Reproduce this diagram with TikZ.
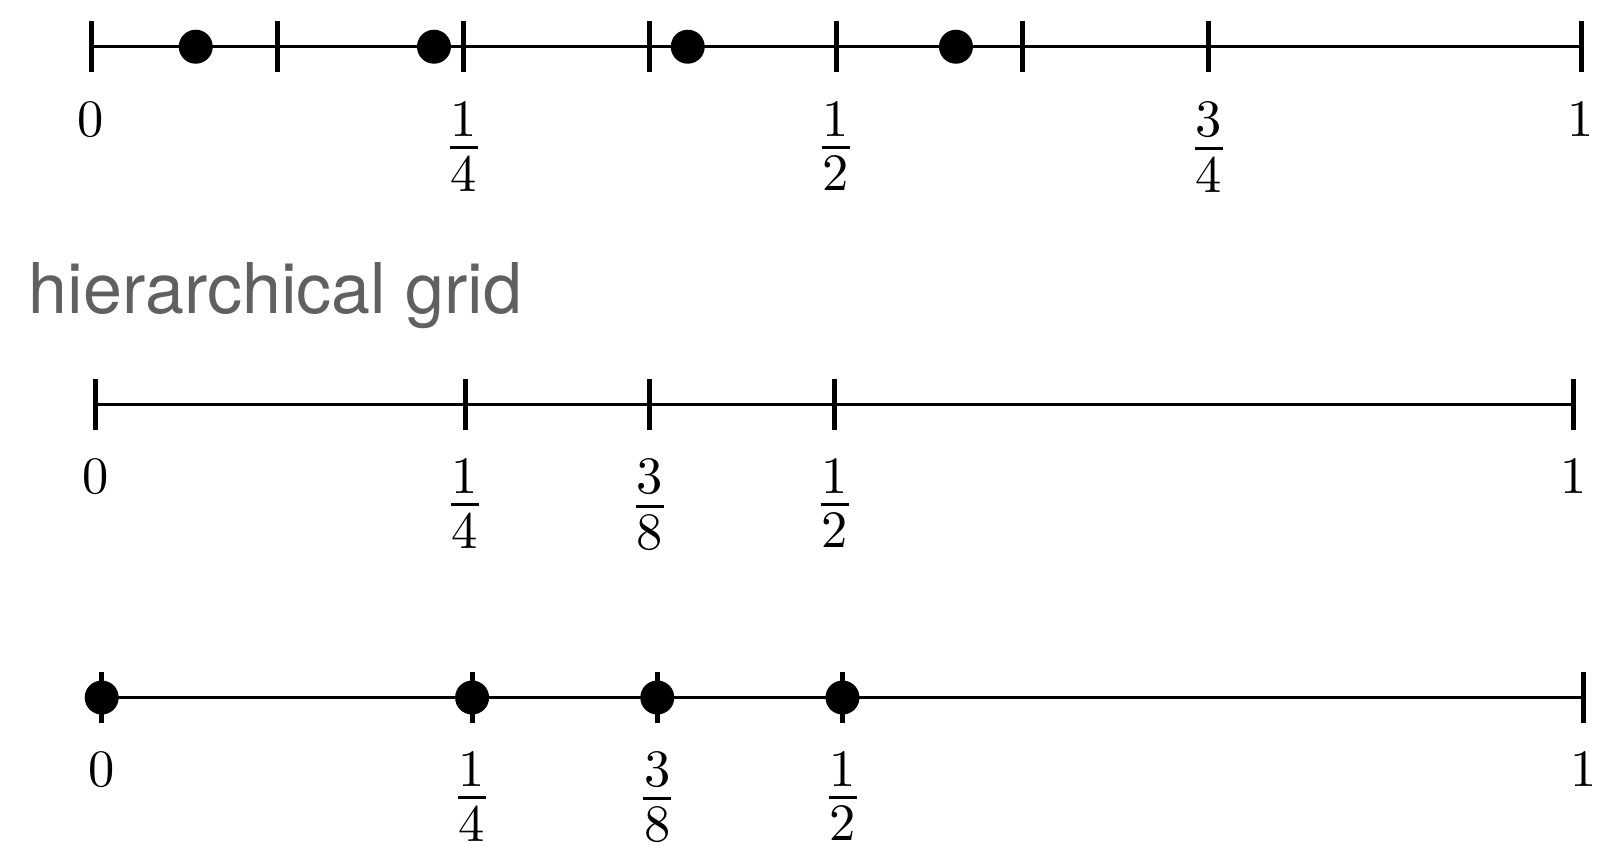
\documentclass[tikz,border=0pt]{standalone}
\usepackage{fontspec}
\usetikzlibrary{calc}
\newfontfamily\herosfont{TeX Gyre Heros}
\definecolor{titlegray}{RGB}{96,96,96}
\newcommand\fr[2]{\vbox{\offinterlineskip\halign{\hfil##\hfil\cr#1\cr\noalign{\kern1.9pt}\vrule width 5.6pt height 0.6pt depth 0pt\cr\noalign{\kern1.3pt}#2\cr}}}
\begin{document}
\begin{tikzpicture}[x=0.2pt,y=-0.2pt,
  axis/.style={line width=0.6pt},
  tickmark/.style={line width=1pt},
  dot/.style={circle,fill=black,inner sep=0pt,minimum size=6.8pt},
  lab/.style={anchor=north,inner sep=0pt,font=\fontsize{10.5}{12}\selectfont},
  title/.style={anchor=base west,inner sep=0pt,text=titlegray,font=\herosfont\fontsize{14}{16}\selectfont}]
\useasboundingbox (0,0) rectangle (1603,845);

% row 1
\coordinate (a0) at (91,46.7);
\coordinate (a1) at (1581,46.7);
\draw[axis] (a0) -- (a1);
\foreach \f in {0,0.125,0.25,0.375,0.5,0.625,0.75,1}
  \draw[tickmark] ($(a0)!\f!(a1)+(0,-25.5)$) -- ++(0,51);
\node[dot] (d1) at ($(a0)!0.0703!(a1)$) {};
\node[dot] (d2) at ($(a0)!0.2302!(a1)$) {};
\node[dot] (d3) at ($(a0)!0.4005!(a1)$) {};
\node[dot] (d4) at ($(a0)!0.5805!(a1)$) {};
\node[lab] (la0) at ($(a0)+(0,54)$) {0};
\node[lab] (la1) at ($(a0)!0.25!(a1)+(0,54)$) {\fr{1}{4}};
\node[lab] (la2) at ($(a0)!0.5!(a1)+(0,54)$) {\fr{1}{2}};
\node[lab] (la3) at ($(a0)!0.75!(a1)+(0,54)$) {\fr{3}{4}};
\node[lab] (la4) at ($(a1)+(0,54)$) {1};

% title
\node[title] (ttl) at (28,313) {hierarchical grid};

% row 2
\coordinate (b0) at (95.7,404);
\coordinate (b1) at (1573.3,404);
\draw[axis] (b0) -- (b1);
\foreach \f in {0,0.25,0.375,0.5,1}
  \draw[tickmark] ($(b0)!\f!(b1)+(0,-25.5)$) -- ++(0,51);
\node[lab] (lb0) at ($(b0)+(0,54)$) {0};
\node[lab] (lb1) at ($(b0)!0.25!(b1)+(0,54)$) {\fr{1}{4}};
\node[lab] (lb2) at ($(b0)!0.375!(b1)+(0,54)$) {\fr{3}{8}};
\node[lab] (lb3) at ($(b0)!0.5!(b1)+(0,54)$) {\fr{1}{2}};
\node[lab] (lb4) at ($(b1)+(0,54)$) {1};

% row 3
\coordinate (c0) at (101.7,697.5);
\coordinate (c1) at (1583.3,697.5);
\draw[axis] (c0) -- (c1);
\foreach \f in {0,0.25,0.375,0.5,1}
  \draw[tickmark] ($(c0)!\f!(c1)+(0,-25.5)$) -- ++(0,51);
\node[dot] (e1) at (c0) {};
\node[dot] (e2) at ($(c0)!0.25!(c1)$) {};
\node[dot] (e3) at ($(c0)!0.375!(c1)$) {};
\node[dot] (e4) at ($(c0)!0.5!(c1)$) {};
\node[lab] (lc0) at ($(c0)+(0,53)$) {0};
\node[lab] (lc1) at ($(c0)!0.25!(c1)+(0,53)$) {\fr{1}{4}};
\node[lab] (lc2) at ($(c0)!0.375!(c1)+(0,53)$) {\fr{3}{8}};
\node[lab] (lc3) at ($(c0)!0.5!(c1)+(0,53)$) {\fr{1}{2}};
\node[lab] (lc4) at ($(c1)+(0,53)$) {1};
\end{tikzpicture}
\end{document}
